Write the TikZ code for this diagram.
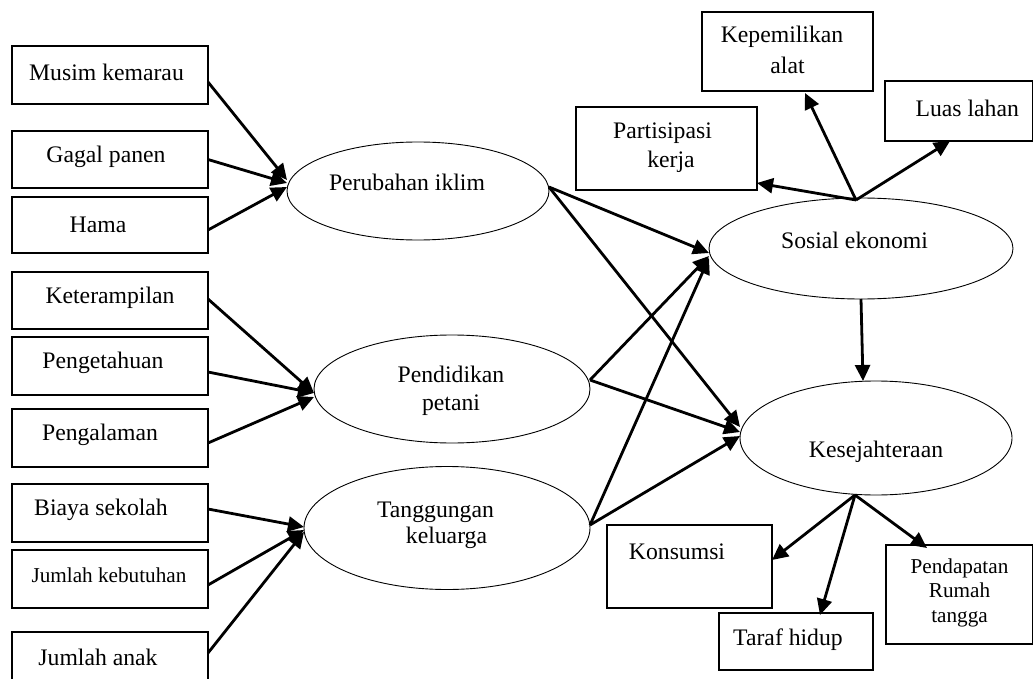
\documentclass[tikz,border=0pt]{standalone}
\usepackage{fontspec}
\setmainfont{Liberation Serif}
\usetikzlibrary{arrows.meta,shapes.geometric}
\begin{document}
\begin{tikzpicture}[x=1pt,y=-1pt,
  box/.style={draw,line width=1.2pt,rectangle,inner sep=0pt,outer sep=0pt},
  oval/.style={draw,line width=0.9pt,ellipse,inner sep=0pt,outer sep=0pt},
  lbl/.style={font=\fontsize{23.7}{28}\selectfont,inner sep=0pt},
  lbls/.style={font=\fontsize{21.2}{24.5}\selectfont,inner sep=0pt},
  link/.style={line width=2.8pt,-{Triangle[length=16pt,width=15pt]}},
]
\useasboundingbox (0,0) rectangle (1033,679);
\fill[white] (0,0) rectangle (1033,679);
\clip (0,0) rectangle (1033,679);

% indicator boxes on the left
\node[box,minimum width=196pt,minimum height=58pt,label={[lbl,xshift=-3.5pt,yshift=3pt]center:Musim kemarau}] (mk) at (110,75) {};
\node[box,minimum width=196pt,minimum height=57pt,label={[lbl,xshift=-4pt,yshift=2.5pt]center:Gagal panen}] (gp) at (110,159.5) {};
\node[box,minimum width=196pt,minimum height=56pt,label={[lbl,xshift=-12pt]center:Hama}] (hama) at (110,225) {};
\node[box,minimum width=196pt,minimum height=57pt,label={[lbl,yshift=2.5pt]center:Keterampilan}] (ket) at (110,300.5) {};
\node[box,minimum width=196pt,minimum height=58pt,label={[lbl,xshift=-7pt,yshift=3pt]center:Pengetahuan}] (peng) at (110,366) {};
\node[box,minimum width=196pt,minimum height=58pt,label={[lbl,xshift=-10pt,yshift=3pt]center:Pengalaman}] (pgl) at (110,438) {};
\node[box,minimum width=196pt,minimum height=58pt,label={[lbl,xshift=-9pt,yshift=3pt]center:Biaya sekolah}] (bs) at (110,513) {};
\node[box,minimum width=196pt,minimum height=58pt,label={[lbls,xshift=-1pt,yshift=4pt]center:Jumlah kebutuhan}] (jk) at (110,579) {};
\node[box,minimum width=196pt,minimum height=68pt,label={[lbl,xshift=-12pt,yshift=9pt]center:Jumlah anak}] (ja) at (110,666) {};

% latent variables
\node[oval,minimum width=262pt,minimum height=98pt,label={[lbl,xshift=-11pt,yshift=9pt]center:Perubahan iklim}] (pi) at (418,191) {};
\node[oval,minimum width=276pt,minimum height=108pt,label={[lbl,align=center,xshift=-1pt,yshift=-2pt]center:Pendidikan\\petani}] (pp) at (452,389) {};
\node[oval,minimum width=286pt,minimum height=123pt,label={[lbl,xshift=-11.5pt,yshift=16pt]center:Tanggungan},label={[lbl,xshift=-0.5pt,yshift=-10pt]center:keluarga}] (tk) at (447,528) {};
\node[oval,minimum width=304pt,minimum height=101pt,label={[lbl,xshift=-6.5pt,yshift=8.5pt]center:Sosial ekonomi}] (se) at (861,248.5) {};
\node[oval,minimum width=272pt,minimum height=114pt,label={[lbl,yshift=-14pt]center:Kesejahteraan}] (ks) at (876,438) {};

% indicator boxes on the right
\node[box,minimum width=171pt,minimum height=79pt,label={[lbl,xshift=-5.5pt,yshift=14.5pt]center:Kepemilikan},label={[lbl,yshift=-13.5pt]center:alat}] (ka) at (787.5,51.5) {};
\node[box,minimum width=147.5pt,minimum height=60pt,label={[lbl,xshift=8.5pt,yshift=3pt]center:Luas lahan}] (ll) at (958.75,111) {};
\node[box,minimum width=181pt,minimum height=83pt,label={[lbl,xshift=-4pt,yshift=15.5pt]center:Partisipasi},label={[lbl,xshift=4.5pt,yshift=-13.5pt]center:kerja}] (pk) at (666.5,148.5) {};
\node[box,minimum width=165pt,minimum height=83pt,label={[lbl,xshift=-12.5pt,yshift=14.5pt]center:Konsumsi}] (kons) at (689.5,566.5) {};
\node[box,minimum width=154pt,minimum height=57pt,label={[lbl,xshift=-8pt,yshift=1.5pt]center:Taraf hidup}] (th) at (796,641.5) {};
\node[box,minimum width=147pt,minimum height=99pt,label={[lbls,align=center,yshift=2pt]center:Pendapatan\\Rumah\\tangga}] (prt) at (959.5,594.5) {};

% indicators -> latent variables
\draw[link] ([yshift=-7pt]mk.east) -- ([yshift=11pt]pi.west);
\draw[link] (gp.east) -- ([yshift=8pt]pi.west);
\draw[link] ([yshift=-5pt]hama.east) -- ([yshift=4pt]pi.west);
\draw[link] ([yshift=1.5pt]ket.east) -- ([yshift=-4pt]pp.west);
\draw[link] ([yshift=-6pt]peng.east) -- ([yshift=-4pt]pp.west);
\draw[link] ([yshift=-5pt]pgl.east) -- ([yshift=-8pt]pp.west);
\draw[link] ([yshift=4pt]bs.east) -- ([yshift=1pt]tk.west);
\draw[link] ([yshift=-6pt]jk.east) -- ([yshift=-2pt]tk.west);
\draw[link] ([yshift=13pt]ja.east) -- ([yshift=-4pt]tk.west);

% paths between latent variables
\draw[link] ([yshift=4pt]pi.east) -- ([yshift=-4.5pt]se.west);
\draw[link] ([yshift=4pt]pi.east) -- ([yshift=11pt]ks.west);
\draw[link] ([yshift=9pt]pp.east) -- ([yshift=-7.5pt]se.west);
\draw[link] ([yshift=9pt]pp.east) -- ([yshift=6pt]ks.west);
\draw[link] ([yshift=3pt]tk.east) -- ([yshift=-9.5pt]se.west);
\draw[link] ([yshift=3pt]tk.east) -- ([yshift=2pt]ks.west);
\draw[link] (se.south) -- ([xshift=-13pt]ks.north);

% reflective indicators of the outcome variables
\coordinate (seTop) at ([xshift=-5pt,yshift=-2pt]se.north);
\draw[link] (seTop) -- ([yshift=7pt]pk.south east);
\draw[link] (seTop) -- ([xshift=17.5pt,yshift=-2pt]ka.south);
\draw[link] (seTop) -- ([xshift=-8.75pt]ll.south);

\coordinate (ksBot) at ([xshift=-21pt]ks.south);
\draw[link] (ksBot) -- ([yshift=6.5pt]kons.east);
\draw[link] (ksBot) -- ([xshift=24pt,yshift=-2pt]th.north);
\draw[link] (ksBot) -- ([xshift=-32.5pt,yshift=-3pt]prt.north);
\end{tikzpicture}
\end{document}
